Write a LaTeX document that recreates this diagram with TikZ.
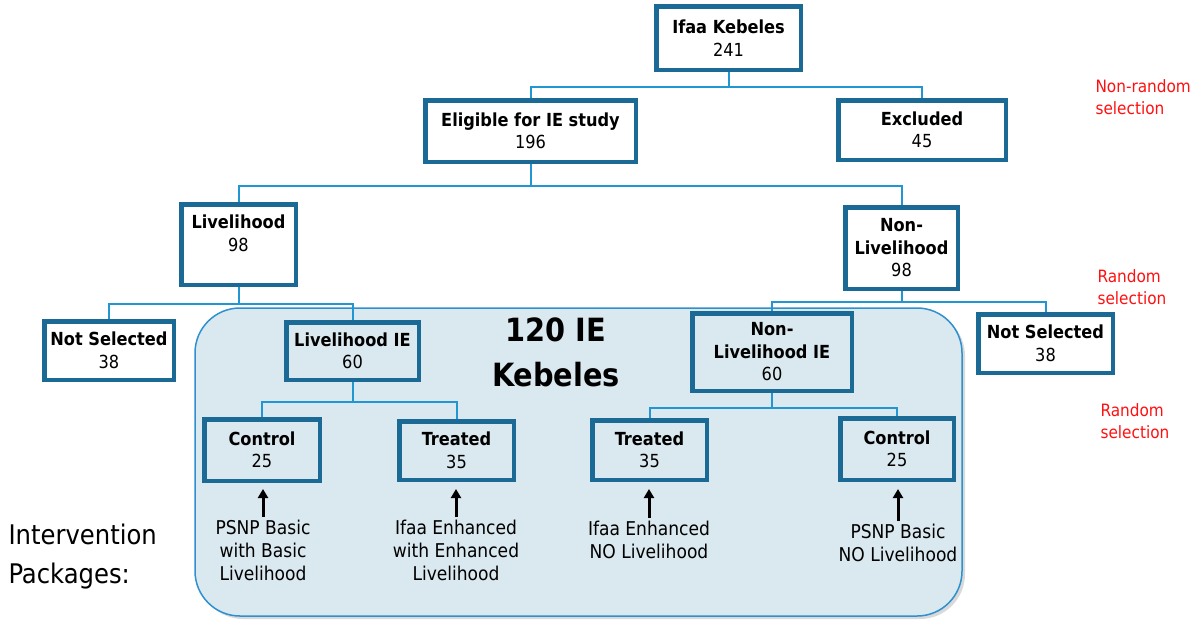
\documentclass[tikz,border=0pt]{standalone}
\usepackage{fontspec}
\setmainfont{DejaVu Sans Condensed}
\usetikzlibrary{arrows.meta,shadows}
\definecolor{boxc}{HTML}{1B6A96}
\definecolor{connc}{HTML}{2196D3}
\definecolor{fillc}{HTML}{DAE8EF}
\definecolor{rimc}{HTML}{2E90CF}
\definecolor{redc}{HTML}{FF1010}
\tikzset{
  bx/.style={draw=boxc,line width=3pt,fill=white,align=center,inner sep=0pt,
    font=\fontsize{18}{22.5}\selectfont},
  inbx/.style={bx,fill=none},
  conn/.style={draw=connc,line width=2pt},
  pk/.style={align=center,font=\fontsize{19}{23}\selectfont},
  red/.style={align=left,anchor=west,text=redc,font=\fontsize{17}{21.5}\selectfont},
  uparr/.style={line width=3pt,-{Triangle[width=10pt,length=9pt]}},
}
\begin{document}
\begin{tikzpicture}[x=1pt,y=-1pt]
\useasboundingbox (0,0) rectangle (1198,619);
% big rounded region
\fill[black!15,rounded corners=45pt] (198,311) rectangle (965,619);
\draw[rimc,line width=1.5pt,fill=fillc,rounded corners=45pt] (195,308) rectangle (962,616);
\node[font=\bfseries\fontsize{32}{45}\selectfont,align=center] (ttl) at (556,352) {120 IE\\Kebeles};

% boxes
\node[bx,minimum width=143,minimum height=62] (ifaa) at (728.5,38) {\textbf{Ifaa Kebeles}\\241};
\node[bx,minimum width=209,minimum height=60] (elig) at (530.5,131) {\textbf{Eligible for IE study}\\196};
\node[bx,minimum width=166,minimum height=58] (excl) at (922,130) {\textbf{Excluded}\\45};
\node[bx,minimum width=113,minimum height=79] (liv) at (238.5,244.5) {\textbf{Livelihood}\\98\\\mbox{}};
\node[bx,minimum width=111,minimum height=80] (nonliv) at (901.5,248) {\textbf{Non-}\\\textbf{Livelihood}\\98};
\node[bx,minimum width=128,minimum height=57] (nsl) at (109,350.5) {\textbf{Not Selected}\\38};
\node[inbx,minimum width=131,minimum height=56] (livie) at (352.5,351) {\textbf{Livelihood IE}\\60};
\node[inbx,minimum width=158,minimum height=76] (nonlivie) at (772,352) {\textbf{Non-}\\\textbf{Livelihood IE}\\60};
\node[bx,minimum width=133,minimum height=57] (nsr) at (1045.5,343.5) {\textbf{Not Selected}\\38};
\node[inbx,minimum width=114,minimum height=60] (ctl1) at (262,450) {\textbf{Control}\\25};
\node[inbx,minimum width=113,minimum height=57] (trt1) at (456.5,450.5) {\textbf{Treated}\\35};
\node[inbx,minimum width=113,minimum height=58] (trt2) at (649.5,450) {\textbf{Treated}\\35};
\node[inbx,minimum width=112,minimum height=60] (ctl2) at (897,449) {\textbf{Control}\\25};

% connectors
\draw[conn] (ifaa.south) -- ++(0,16) -| (elig.north);
\draw[conn] (ifaa.south) -- ++(0,16) -| (excl.north);
\draw[conn] (elig.south) -- ++(0,23) -| (liv.north);
\draw[conn] (elig.south) -- ++(0,23) -| (nonliv.north);
\draw[conn] (liv.south) -- ++(0,18) -| (nsl.north);
\draw[conn] (liv.south) -- ++(0,18) -| (livie.north);
\draw[conn] (nonliv.south) -- ++(0,12) -| (nonlivie.north);
\draw[conn] (nonliv.south) -- ++(0,12) -| (nsr.north);
\draw[conn] (livie.south) -- ++(0,21) -| (ctl1.north);
\draw[conn] (livie.south) -- ++(0,21) -| (trt1.north);
\draw[conn] (nonlivie.south) -- ++(0,16) -| (trt2.north);
\draw[conn] (nonlivie.south) -- ++(0,16) -| (ctl2.north);

% redraw box frames on top of connectors
\foreach \n in {ifaa,elig,excl,liv,nonliv,nsl,livie,nonlivie,nsr,ctl1,trt1,trt2,ctl2}
  \draw[boxc,line width=3pt] (\n.south west) rectangle (\n.north east);

% intervention packages
\node[pk,anchor=north] (p1) at (263,517) {PSNP Basic\\with Basic\\Livelihood};
\node[pk,anchor=north] (p2) at (456,517) {Ifaa Enhanced\\with Enhanced\\Livelihood};
\node[pk,anchor=north] (p3) at (649,518) {Ifaa Enhanced\\NO Livelihood};
\node[pk,anchor=north] (p4) at (898,521) {PSNP Basic\\NO Livelihood};
\draw[uparr] (p1.north) -- ++(0,-28);
\draw[uparr] (p2.north) -- ++(0,-28);
\draw[uparr] (p3.north) -- ++(0,-29);
\draw[uparr] (p4.north) -- ++(0,-32);

\node[align=left,anchor=west,font=\fontsize{27}{39}\selectfont] (ip) at (5,557) {Intervention\\Packages:};

% red notes
\node[red] (r1) at (1092,97) {Non-random\\selection};
\node[red] (r2) at (1094,287) {Random\\selection};
\node[red] (r3) at (1097,421) {Random\\selection};
\end{tikzpicture}
\end{document}
